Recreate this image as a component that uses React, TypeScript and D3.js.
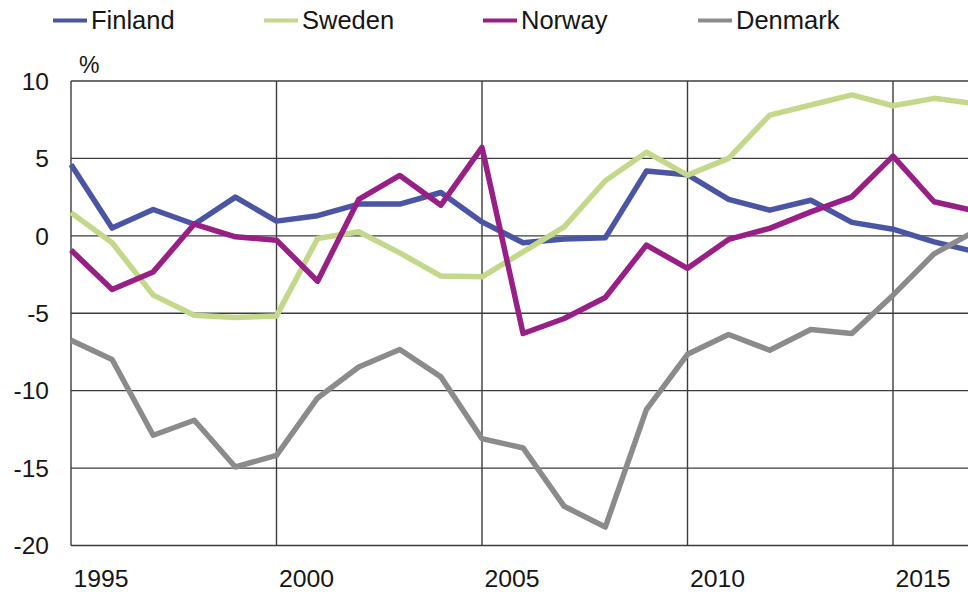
import React from "react";
import * as d3 from "d3";

const years = [1995,1996,1997,1998,1999,2000,2001,2002,2003,2004,2005,2006,2007,2008,2009,2010,2011,2012,2013,2014,2015,2016,2017];
const finland = [4.6,0.5,1.7,0.75,2.5,0.95,1.3,2.05,2.05,2.8,0.9,-0.45,-0.2,-0.13,4.18,3.95,2.35,1.66,2.3,0.87,0.43,-0.39,-1.03];
const sweden = [1.5,-0.45,-3.83,-5.13,-5.28,-5.17,-0.17,0.26,-1.1,-2.6,-2.65,-1.03,0.58,3.56,5.4,3.92,5.0,7.8,8.45,9.1,8.4,8.88,8.54];
const norway = [-0.92,-3.46,-2.33,0.76,-0.06,-0.28,-2.93,2.35,3.9,1.98,5.71,-6.31,-5.34,-3.98,-0.6,-2.1,-0.23,0.48,1.55,2.52,5.15,2.2,1.6];
const denmark = [-6.74,-7.99,-12.88,-11.91,-14.93,-14.18,-10.47,-8.47,-7.34,-9.11,-13.1,-13.7,-17.47,-18.81,-11.22,-7.65,-6.37,-7.39,-6.05,-6.31,-3.83,-1.16,0.3];
const seriesNames = ["Finland", "Sweden", "Norway", "Denmark"];
const seriesColors = ["#4a55a4", "#c3d88a", "#981f86", "#8b8b8b"];
const yTicks = [10, 5, 0, -5, -10, -15, -20];
const xTicks = [1995, 2000, 2005, 2010, 2015];

const W = 968;
const H = 593;
const FONT = "'Liberation Sans', Arial, sans-serif";

export default function App() {
  const x = d3.scaleLinear().domain([1995, 2015]).range([71, 893]);
  const y = d3.scaleLinear().domain([-20, 10]).range([545.5, 81]);
  const allSeries = [finland, sweden, norway, denmark];
  const line = d3
    .line<number>()
    .x((_, i) => x(years[i]))
    .y((d) => y(d));
  const legendX = [53, 264, 483, 698];
  const gridColor = "#3c3c3c";
  const textColor = "#161616";
  return (
    <div style={{ position: "fixed", left: 0, top: 0, width: W, height: H, background: "#fff" }}>
      <svg width={W} height={H} style={{ display: "block" }} fontFamily={FONT}>
        <rect x={0} y={0} width={W} height={H} fill="#fff" />
        {seriesNames.map((n, i) => (
          <g key={n}>
            <line x1={legendX[i]} x2={legendX[i] + 34} y1={20.5} y2={20.5} stroke={seriesColors[i]} strokeWidth={4} />
            <text x={legendX[i] + 38} y={28.5} fontSize={25.5} fill={textColor}>{n}</text>
          </g>
        ))}
        <text x={79} y={73} fontSize={23} fill={textColor}>%</text>
        {yTicks.map((t) => (
          <line key={"h" + t} x1={71} x2={W} y1={y(t)} y2={y(t)} stroke={gridColor} strokeWidth={1.4} />
        ))}
        {xTicks.map((t) => (
          <line key={"v" + t} x1={x(t)} x2={x(t)} y1={y(10)} y2={y(-20)} stroke={gridColor} strokeWidth={1.4} />
        ))}
        {yTicks.map((t) => (
          <text key={"yl" + t} x={49} y={y(t) + 8.7} fontSize={24.5} textAnchor="end" fill={textColor}>{t}</text>
        ))}
        {xTicks.map((t) => (
          <text key={"xl" + t} x={x(t) + 2.5} y={587} fontSize={24.8} fill={textColor}>{t}</text>
        ))}
        <defs>
          <clipPath id="plotclip">
            <rect x={0} y={0} width={W} height={H} />
          </clipPath>
        </defs>
        <g clipPath="url(#plotclip)">
          {allSeries.map((s, i) => (
            <path key={seriesNames[i]} d={line(s) || ""} fill="none" stroke={seriesColors[i]} strokeWidth={5.5} strokeLinejoin="round" />
          ))}
        </g>
      </svg>
    </div>
  );
}
